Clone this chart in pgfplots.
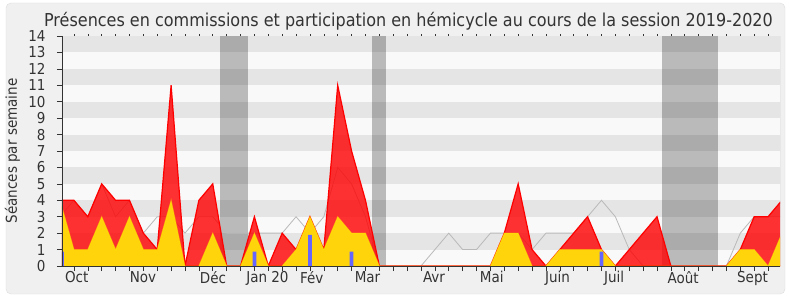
\documentclass[border=0pt]{standalone}
\usepackage{fontspec}
\setmainfont{DejaVu Sans Condensed}
\usepackage{pgfplots}
\usepackage{pgfplotstable}
\pgfplotsset{compat=1.18}
\definecolor{bgc}{RGB}{240,240,240}
\definecolor{framec}{RGB}{222,222,222}
\definecolor{stripe}{RGB}{229,229,229}
\definecolor{plotbg}{RGB}{249,249,249}
\definecolor{txt}{RGB}{51,51,51}
\definecolor{yel}{RGB}{255,212,10}
\definecolor{yeledge}{RGB}{255,235,0}
\definecolor{blu}{RGB}{102,102,255}
\definecolor{med}{RGB}{185,185,185}

\pgfplotstableread{
w red yel med
0 4 4 3
1 4 1 4
2 3 1 3
3 5 3 5
4 4 1 3
5 4 3 4
6 2 1 2
7 1 1 3
8 11 4 3
9 0 0 2
10 4 0 3
11 5 2 3
12 0 0 2
13 0 0 2
14 3 2 2
15 0 0 2
16 2 0 2
17 1 1 3
18 3 3 2
19 1 1 3
20 11 3 6
21 7 2 5
22 4 2 3
23 0 0 0
24 0 0 0
25 0 0 0
26 0 0 0
27 0 0 1
28 0 0 2
29 0 0 1
30 0 0 1
31 0 0 2
32 2 2 2
33 5 2 2
34 1 0 1
35 0 0 2
36 1 1 2
37 2 1 2
38 3 1 3
39 1 1 4
40 0 0 3
41 1 0 1
42 2 0 0
43 3 0 0
44 0 0 0
45 0 0 0
46 0 0 0
47 0 0 0
48 0 0 0
49 1 1 2
50 3 1 3
51 3 0 3
52 4 2 3
}\weekly

\pgfplotstableread{
w q
0.14 0.88
14 0.88
18 1.9
21 0.88
39 0.88
}\questions

\begin{document}
\begin{tikzpicture}[x=1pt,y=1pt]
\fill[white] (0,0) rectangle (790,300);
\fill[bgc, draw=framec, rounded corners=5pt] (6,6) rectangle (785,297);
\node[txt, font=\fontsize{17.8}{20}\selectfont, anchor=base] at (408.5,273.3) {Présences en commissions et participation en hémicycle au cours de la session 2019-2020};
\begin{axis}[
  at={(62pt,34pt)}, anchor=south west,
  width=718pt, height=230pt, scale only axis,
  xmin=0.14, xmax=51.86, ymin=0, ymax=14,
  axis x line*=bottom, axis y line*=left,
  axis line style={draw=txt, -},
  axis on top,
  axis background/.style={fill=plotbg},
  tick align=outside,
  major tick length=5pt,
  tick style={draw=txt, line width=0.6pt},
  ytick={0,...,14},
  xtick={0,...,52}, xticklabels={},
  extra x ticks={1.2,5.97,11.02,14.94,18.13,22.15,26.94,31.10,35.84,39.91,44.88,49.88},
  extra x tick labels={Oct,Nov,Déc,Jan 20,Fév,Mar,Avr,Mai,Juin,Juil,Août,Sept},
  extra x tick style={major tick length=0pt, tick style={draw=none}},
  /pgf/number format/assume math mode=true,
  ticklabel style={font=\fontsize{15}{15}\selectfont, text=txt},
  xticklabel style={yshift=-2pt},
  yticklabel style={xshift=-8pt},
  ylabel={Séances par semaine},
  every axis y label/.style={at={(axis description cs:0,0.5)}, xshift=-49.5pt, rotate=90, anchor=center, font=\fontsize{15}{15}\selectfont, text=txt},
  clip=true,
]
\pgfplotsinvokeforeach{1,3,...,13}{
  \fill[stripe] (axis cs:-1,#1) rectangle (axis cs:53,#1+1);
}
\fill[black, opacity=0.25] (axis cs:11.52,0) rectangle (axis cs:13.54,14);
\fill[black, opacity=0.25] (axis cs:22.47,0) rectangle (axis cs:23.48,14);
\fill[black, opacity=0.25] (axis cs:43.36,0) rectangle (axis cs:47.4,14);
\draw[med] (axis cs:51.86,0) -- (axis cs:51.86,14);

\addplot[med, line width=0.8pt] table[x=w, y=med] {\weekly};
\addplot[draw=red, line width=1.2pt, fill=red, fill opacity=0.8] table[x=w, y=red] {\weekly} \closedcycle;
\addplot[draw=yeledge, draw opacity=0.45, line width=1pt, fill=yel] table[x=w, y=yel] {\weekly} \closedcycle;
\addplot[ybar, bar width=3.7pt, bar shift=0pt, fill=blu, draw=none] table[x=w, y=q] {\questions};
\end{axis}
\begin{axis}[
  at={(62pt,34pt)}, anchor=south west,
  width=718pt, height=230pt, scale only axis,
  xmin=0.14, xmax=51.86, ymin=0, ymax=14,
  axis x line*=top, axis y line=none,
  x axis line style={draw=none},
  tick align=outside,
  major tick length=1.5pt,
  tick style={draw=txt, line width=0.6pt},
  xtick={0,...,52}, xticklabels={},
  ytick=\empty,
]
\end{axis}
\end{tikzpicture}
\end{document}
